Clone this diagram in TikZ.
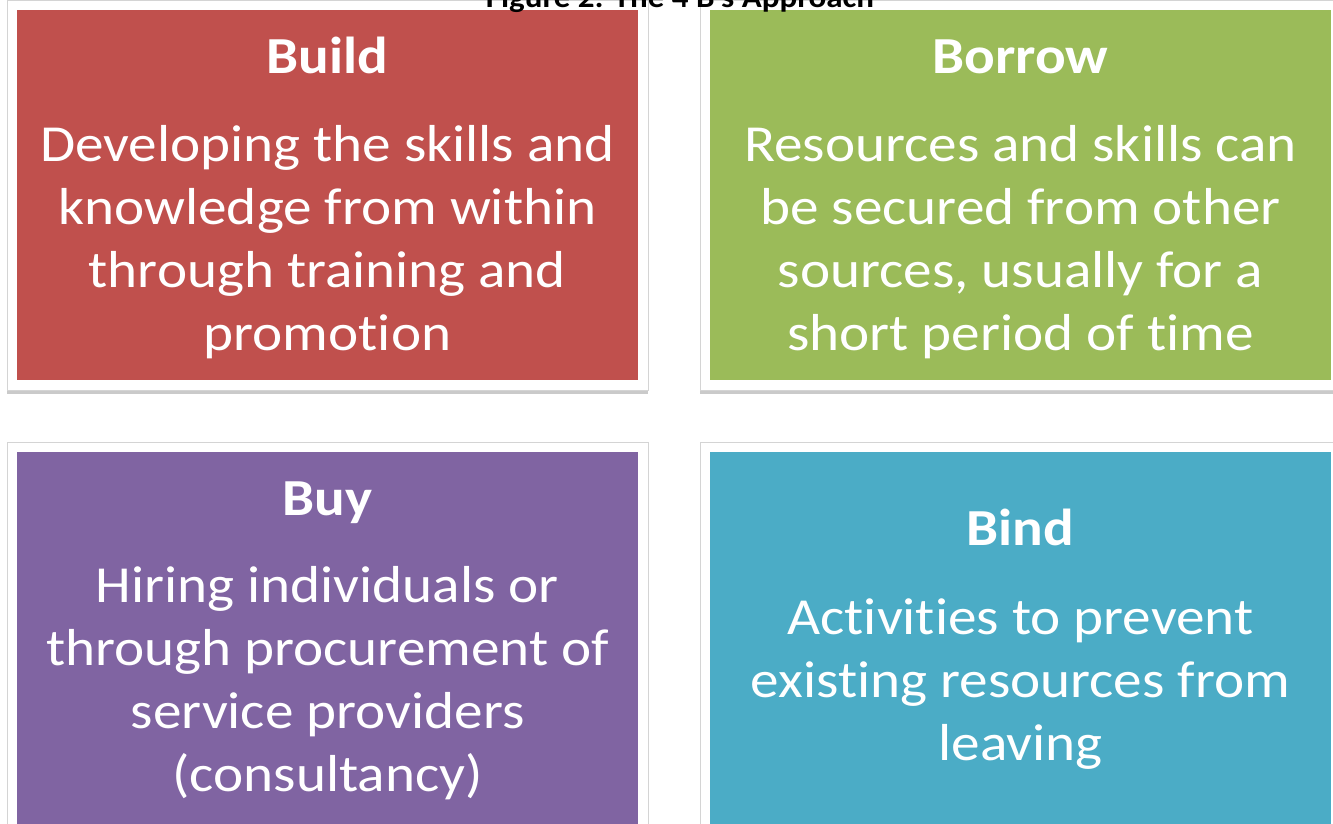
\documentclass[tikz,border=0pt]{standalone}
\usepackage{fontspec}
\setmainfont{Carlito}[FakeStretch=1.1, Ligatures={NoCommon}]
\usetikzlibrary{shadows}
\definecolor{cred}{HTML}{C0504D}
\definecolor{cgreen}{HTML}{9BBB59}
\definecolor{cpurple}{HTML}{8064A2}
\definecolor{cteal}{HTML}{4BACC6}
\definecolor{cardline}{HTML}{D4D4D4}
\tikzset{
  card/.style={fill=white, draw=cardline, line width=1pt,
    drop shadow={shadow xshift=0pt, shadow yshift=-4pt, opacity=0.35, fill=black!60}},
  head/.style={text=white, anchor=base, font=\fontsize{52}{60}\selectfont\bfseries},
  body/.style={text=white, anchor=center, align=center, font=\fontsize{52}{63}\selectfont},
  title/.style={text=black, anchor=base, font=\fontsize{30}{36}\selectfont\bfseries}
}
\begin{document}
\begin{tikzpicture}[x=1pt,y=-1pt]
\useasboundingbox (0,0) rectangle (1333,823);
\clip (0,0) rectangle (1333,823);
% cards
\path[card] (7,0) rectangle (648,390);
\path[card] (700,0) rectangle (1341,390);
\path[card] (7,442) rectangle (648,840);
\path[card] (700,442) rectangle (1341,840);
% panels
\fill[cred] (17,10) rectangle (638,380);
\fill[cgreen] (710,10) rectangle (1331,380);
\fill[cpurple] (17,452) rectangle (638,830);
\fill[cteal] (710,452) rectangle (1331,830);
% title (cut off at the top edge, as in the source)
\node[title] (title) at (680,7) {Figure 2: The 4 B's Approach};
% texts
\node[head] (buildh) at (327.5,73) {Build};
\node[body] (buildb) at (327.5,242) {Developing the skills and\\knowledge from within\\through training and\\promotion};
\node[head] (borrowh) at (1020.5,73) {Borrow};
\node[body] (borrowb) at (1020.5,242) {Resources and skills can\\be secured from other\\sources, usually for a\\short period of time};
\node[head] (buyh) at (327.5,515) {Buy};
\node[body] (buyb) at (327.5,683) {Hiring individuals or\\through procurement of\\service providers\\(consultancy)};
\node[head] (bindh) at (1020.5,545) {Bind};
\node[body] (bindb) at (1020.5,684) {Activities to prevent\\existing resources from\\leaving};
\end{tikzpicture}
\end{document}
